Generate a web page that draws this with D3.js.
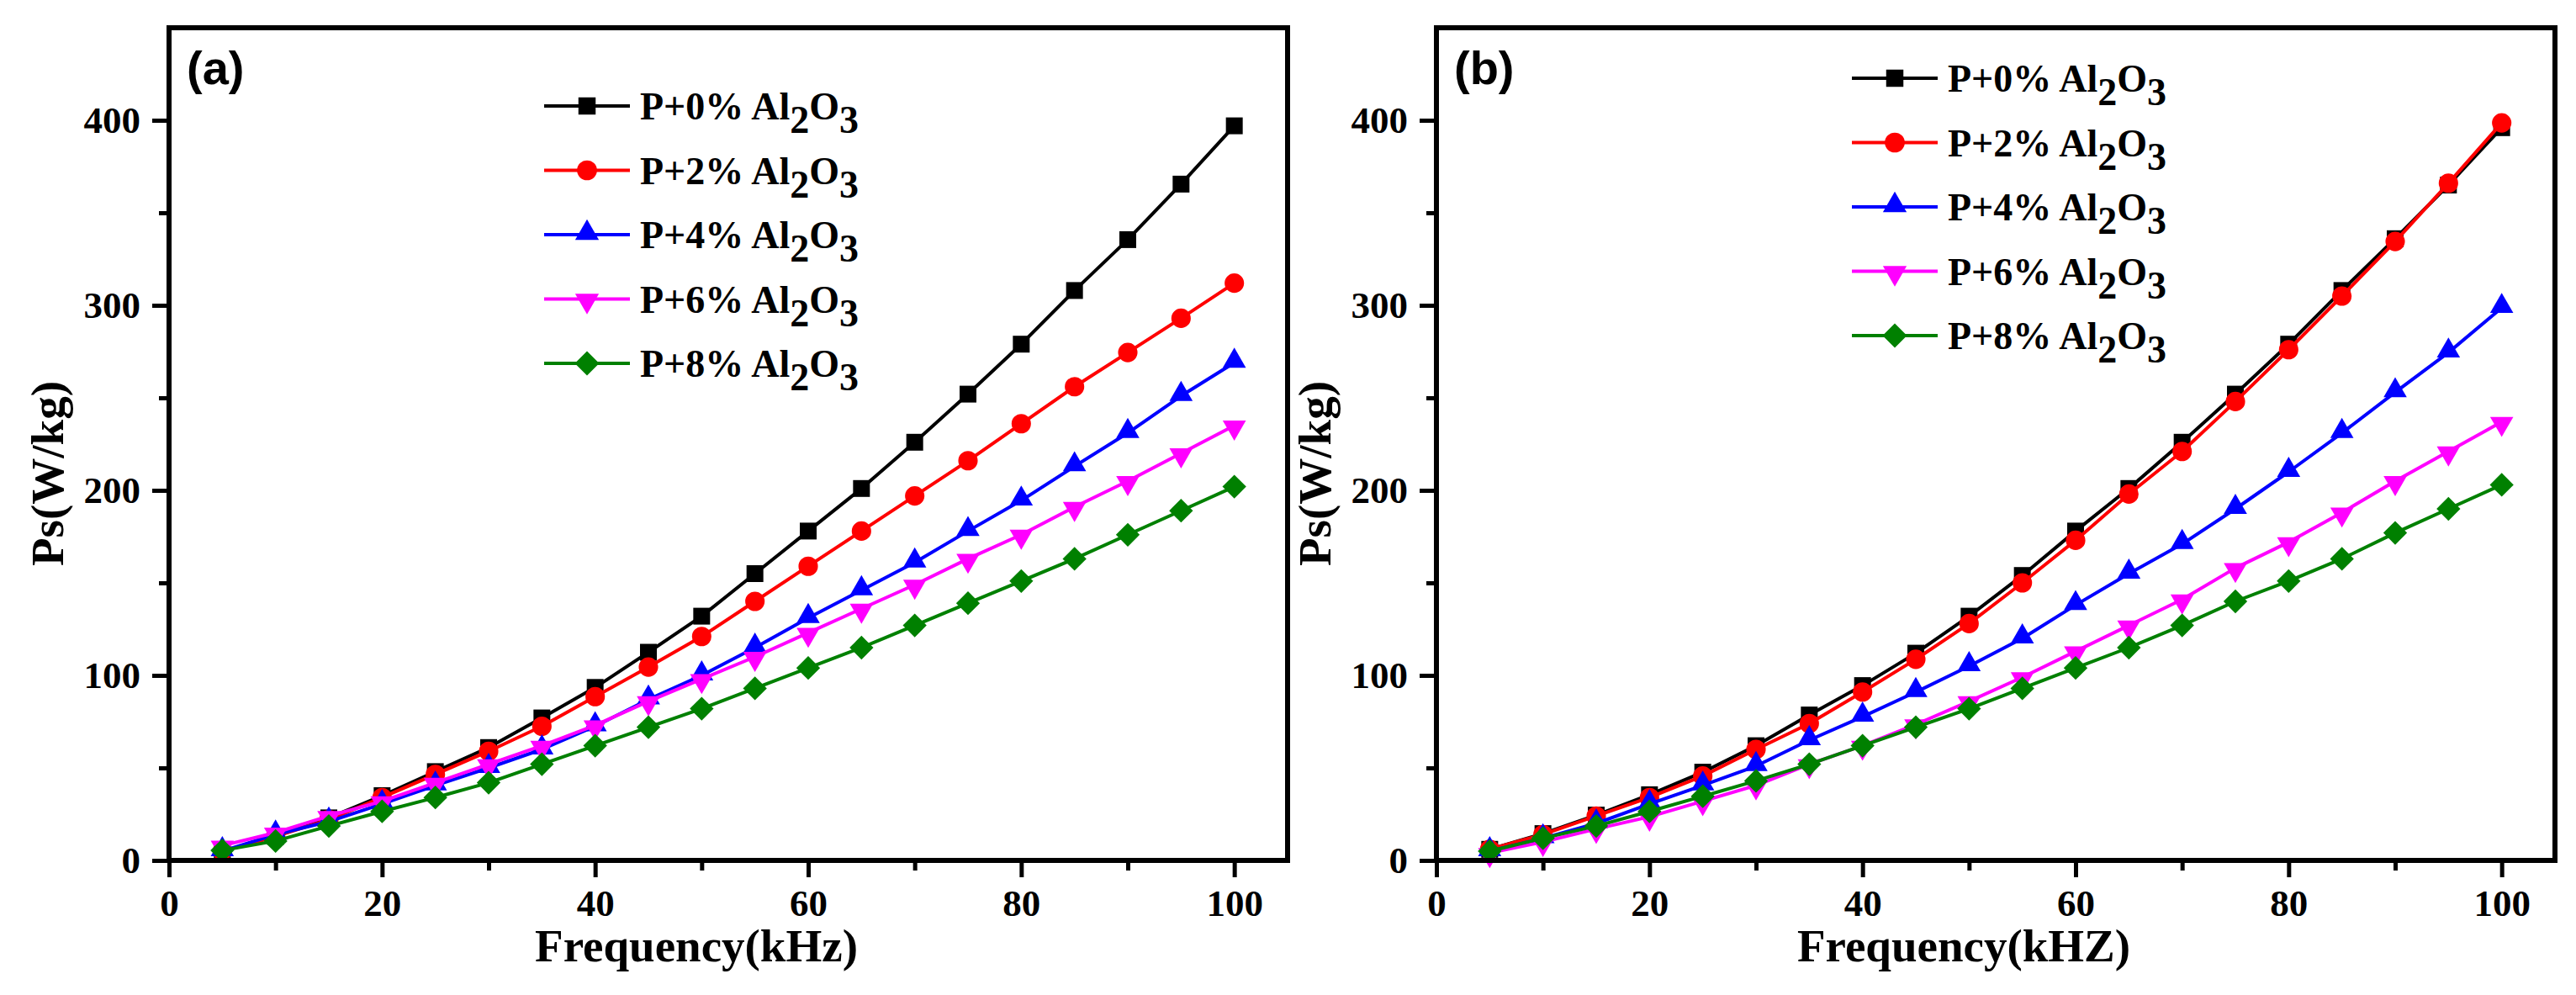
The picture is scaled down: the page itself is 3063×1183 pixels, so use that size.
<!DOCTYPE html>
<html>
<head>
<meta charset="utf-8">
<script src="https://cdn.jsdelivr.net/npm/d3@7"></script>
<style>
  html, body { margin: 0; padding: 0; background: #fff; }
  svg { display: block; }
</style>
</head>
<body>
<script>
// ---------------- DATA ----------------
const freq = [5, 10, 15, 20, 25, 30, 35, 40, 45, 50, 55, 60, 65, 70, 75, 80, 85, 90, 95, 100];
const pctLabels = ["0", "2", "4", "6", "8"];
const seriesColors = ["#000000", "#ff0000", "#0000ff", "#ff00ff", "#008000"];
const seriesSymbols = ["square", "circle", "triangle", "triangleDown", "diamond"];

// panel (a)
const a0 = [5, 13, 23, 35, 48, 61, 77, 93.5, 112.5, 132, 155, 178, 201, 226, 252, 279, 308, 335.5, 365.5, 397];
const a2 = [5, 13, 22, 34, 46.5, 59, 72.5, 88.5, 104.5, 121, 140, 159, 178, 197, 216, 236, 256, 274.5, 293, 312];
const a4 = [5, 14, 21, 30.5, 40.5, 50, 60, 72.5, 87, 100, 115, 131, 146, 161, 178, 194.5, 213, 231, 251, 269];
const a6 = [8, 15, 24, 32, 42, 52, 62, 73, 86, 98, 110, 123, 136, 149, 163, 176, 191, 205, 220, 235];
const a8 = [5.4, 10.5, 18.6, 26.5, 34, 42, 52, 62, 72, 82, 93, 104, 115, 127, 139, 151, 163, 176, 189, 202];

// panel (b)
const b0 = [6, 14.5, 24.5, 35.5, 47.7, 62, 78.6, 94.5, 112, 132, 154, 178, 201, 226, 252, 279, 308, 336, 365, 396];
const b2 = [6, 14, 24, 34, 45.6, 60, 74, 91, 108.7, 128, 150, 173, 198, 221, 248, 276, 305, 334.5, 366, 398.6];
const b4 = [5, 12, 20, 30.5, 40.5, 51, 65, 77.7, 91, 105, 120, 138, 155, 171, 190, 210, 231, 253, 274.5, 298.6];
const b6 = [4, 10, 17, 23.6, 32, 40.5, 52, 62, 73.5, 86, 99, 113, 127, 141, 158, 172, 188, 205, 221, 237];
const b8 = [5, 12, 18.6, 26.5, 34.7, 43, 52, 62, 72, 82, 93, 104, 115, 127, 140, 151, 163, 177, 190, 203];

const xMajorTicks = [0, 20, 40, 60, 80, 100];
const xMinorTicks = [10, 30, 50, 70, 90];
const yMajorTicks = [0, 100, 200, 300, 400];
const yMinorTicks = [50, 150, 250, 350];
const xDomain = [0, 105];
const yDomain = [0, 450];
const yTitle = "Ps(W/kg)";
const xTitleA = "Frequency(kHz)";
const xTitleB = "Frequency(kHZ)";
const panelLabels = ["(a)", "(b)"];

// ---------------- DRAW ----------------
const W = 3063, H = 1183;
const SERIF = "'Liberation Serif', 'Times New Roman', serif";
const SANS = "'Liberation Sans', Arial, sans-serif";
const svg = d3.select("body").append("svg").attr("width", W).attr("height", H);

const invTri = {
  draw(ctx, size) {
    const y = Math.sqrt(size / (3 * Math.sqrt(3)));
    ctx.moveTo(0, 2 * y);
    ctx.lineTo(-Math.sqrt(3) * y, -y);
    ctx.lineTo(Math.sqrt(3) * y, -y);
    ctx.closePath();
  }
};
const diamond45 = {
  draw(ctx, size) {
    const h = Math.sqrt(size / 2);
    ctx.moveTo(0, -h); ctx.lineTo(h, 0); ctx.lineTo(0, h); ctx.lineTo(-h, 0); ctx.closePath();
  }
};
const symMap = {
  square: [d3.symbolSquare, 400, 0],
  circle: [d3.symbolCircle, 420, 0],
  triangle: [d3.symbolTriangle, 330, -2],
  triangleDown: [invTri, 330, 2],
  diamond: [diamond45, 400, 0]
};
function symPath(name, scale) {
  const s = symMap[name];
  return d3.symbol().type(s[0]).size(s[1] * (scale || 1))();
}

function drawPanel(cfg) {
  const left = cfg.left, right = cfg.left + 1330, top = 33, bottom = 1023;
  const x = d3.scaleLinear().domain(xDomain).range([left, right]);
  const y = d3.scaleLinear().domain(yDomain).range([bottom, top]);
  const g = svg.append("g");

  // series
  cfg.series.forEach((vals, i) => {
    const pts = freq.map((f, j) => [f, vals[j]]);
    g.append("path")
      .attr("d", d3.line().x(d => x(d[0])).y(d => y(d[1]))(pts))
      .attr("fill", "none").attr("stroke", seriesColors[i]).attr("stroke-width", 4)
      .attr("stroke-linejoin", "round");
    const off = symMap[seriesSymbols[i]][2];
    g.selectAll(null).data(pts).enter().append("path")
      .attr("d", symPath(seriesSymbols[i]))
      .attr("transform", d => `translate(${x(d[0])},${y(d[1]) + off})`)
      .attr("fill", seriesColors[i]);
  });

  // axes
  const xAxis = d3.axisBottom(x).tickValues(xMajorTicks).tickSize(20).tickPadding(14).tickFormat(d3.format("d"));
  const xAxisMinor = d3.axisBottom(x).tickValues(xMinorTicks).tickSize(12).tickFormat("");
  const yAxis = d3.axisLeft(y).tickValues(yMajorTicks).tickSize(20).tickPadding(14).tickFormat(d3.format("d"));
  const yAxisMinor = d3.axisLeft(y).tickValues(yMinorTicks).tickSize(12).tickFormat("");

  [[xAxis, `translate(0,${bottom})`], [xAxisMinor, `translate(0,${bottom})`],
   [yAxis, `translate(${left},0)`], [yAxisMinor, `translate(${left},0)`]].forEach(([ax, tr]) => {
    const a = g.append("g").attr("transform", tr).call(ax);
    a.select(".domain").remove();
    a.selectAll(".tick line").attr("stroke", "#000").attr("stroke-width", 5);
    a.selectAll(".tick text").style("font-size", "45px").style("font-family", SERIF)
      .style("font-weight", "bold").attr("fill", "#000");
  });

  // frame
  g.append("rect").attr("x", left).attr("y", top).attr("width", right - left).attr("height", bottom - top)
    .attr("fill", "none").attr("stroke", "#000").attr("stroke-width", 6);

  // titles
  g.append("text").attr("x", left + 627).attr("y", 1143).attr("text-anchor", "middle")
    .style("font-family", SERIF).style("font-weight", "bold").style("font-size", "55px").text(cfg.xTitle);
  g.append("text").attr("transform", `translate(${left - 126},563) rotate(-90)`).attr("text-anchor", "middle")
    .style("font-family", SERIF).style("font-weight", "bold").style("font-size", "55px").text(yTitle);

  // panel label
  g.append("text").attr("x", left + 21).attr("y", 100)
    .style("font-family", SANS).style("font-weight", "bold").style("font-size", "56px").text(cfg.label);

  // legend
  const lg = g.append("g").attr("transform", `translate(${left + cfg.legendDx},${cfg.legendTop})`);
  pctLabels.forEach((p, i) => {
    const row = lg.append("g").attr("transform", `translate(0,${i * 76.5})`);
    row.append("line").attr("x1", 0).attr("x2", 102).attr("y1", 0).attr("y2", 0)
      .attr("stroke", seriesColors[i]).attr("stroke-width", 4);
    const off = symMap[seriesSymbols[i]][2];
    row.append("path").attr("d", symPath(seriesSymbols[i], 1.05))
      .attr("transform", `translate(51,${off})`).attr("fill", seriesColors[i]);
    const t = row.append("text").attr("x", 114).attr("y", 16)
      .style("font-family", SERIF).style("font-weight", "bold").style("font-size", "46px");
    t.append("tspan").text(`P+${p}% Al`);
    t.append("tspan").attr("dy", 16).text("2");
    t.append("tspan").attr("dy", -16).text("O");
    t.append("tspan").attr("dy", 16).text("3");
  });
}

drawPanel({ left: 201, series: [a0, a2, a4, a6, a8], xTitle: xTitleA, label: panelLabels[0], legendDx: 446, legendTop: 126 });
drawPanel({ left: 1708, series: [b0, b2, b4, b6, b8], xTitle: xTitleB, label: panelLabels[1], legendDx: 494, legendTop: 93 });
</script>
</body>
</html>
